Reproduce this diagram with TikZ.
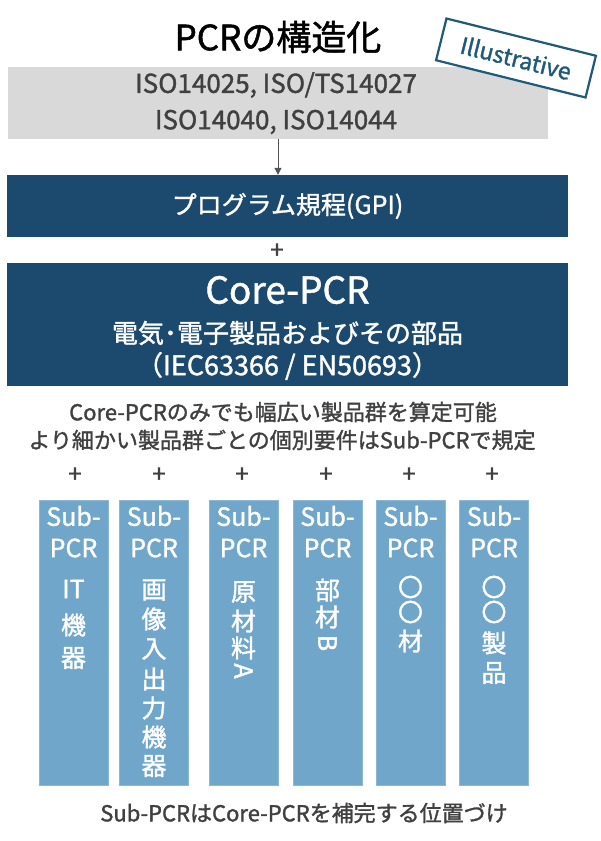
\documentclass[tikz,border=0pt]{standalone}
\usepackage{fontspec}
\setmainfont{Noto Sans CJK JP}[FakeBold=1.4]
\usetikzlibrary{arrows.meta}
\definecolor{darkblue}{HTML}{1C4A6E}
\definecolor{subblue}{HTML}{6FA6CA}
\definecolor{greyfill}{HTML}{D9D9D9}
\definecolor{greytext}{HTML}{404040}
\definecolor{illus}{HTML}{1F5A7A}
\newcommand{\fs}[2]{\fontsize{#1}{#2}\selectfont}
\begin{document}
\begin{tikzpicture}[x=1pt,y=-1pt,
  greybox/.style={fill=greyfill, draw=none, inner sep=0pt},
  bluebox/.style={fill=darkblue, draw=none, inner sep=0pt},
  subbox/.style={fill=subblue, draw=subblue!80!white, line width=0.6pt, inner sep=0pt, minimum width=69pt, minimum height=285pt},
  plain/.style={inner sep=0pt, text=greytext},
  wtext/.style={inner sep=0pt, text=white},
  plus/.style={inner sep=0pt, text=greytext, font=\fs{24}{24}},
  subtxt/.style={inner sep=0pt, text=white, font=\fs{25}{25}},
  vchar/.style={inner sep=0pt, text=white, font=\fs{25}{25}},
  conn/.style={draw=greytext!90, line width=1pt, -{Triangle[length=7pt,width=7pt]}}
]
\useasboundingbox (0,0) rectangle (600,841);
\fill[white] (0,0) rectangle (600,841);

% title
\node[inner sep=0pt, text=black, font=\fs{35}{35}] (title) at (278,37) {PCRの構造化};

% ISO box
\node[greybox, minimum width=540pt, minimum height=72pt] (iso) at (278,103) {};
\node[plain, font=\fs{26}{26}] (iso1) at (276,85) {ISO14025, ISO/TS14027};
\node[plain, font=\fs{26}{26}] (iso2) at (276,122) {ISO14040, ISO14044};

% Illustrative stamp
\node[draw=illus, line width=2.2pt, fill=white, rotate=-14, minimum width=154pt, minimum height=43pt, inner sep=0pt, text=illus, font=\fs{23}{23}] (ill) at (516,58) {Illustrative};

% GPI box
\node[bluebox, minimum width=561pt, minimum height=62pt, text=white, font=\fs{25}{25}] (gpi) at (287.5,206) {プログラム規程(GPI)};

\draw[conn] (iso.south) -- (iso.south |- gpi.north);

\node[plus] (p0) at (277,251) {+};

% Core-PCR box
\node[bluebox, minimum width=561pt, minimum height=123pt] (core) at (287.5,324.5) {};
\node[wtext, font=\fs{37}{37}] (c1) at (287.5,290) {Core-PCR};
\node[wtext, font=\fs{26}{26}] (c2) at (287.5,333) {電気･電子製品およびその部品};
\node[wtext, font=\fs{27}{27}] (c3) at (287.5,366) {（IEC63366 / EN50693）};

% explanation
\node[plain, font=\fs{22}{22}] (e1) at (283,412) {Core-PCRのみでも幅広い製品群を算定可能};
\node[plain, font=\fs{22}{22}] (e2) at (282,440) {より細かい製品群ごとの個別要件はSub-PCRで規定};

% plus row
\foreach \i/\x in {1/75,2/159,3/242,4/326,5/409,6/492}{
  \node[plus] (pp\i) at (\x,475) {+};
}

% Sub-PCR boxes
\foreach \i/\x in {1/73.5,2/154,3/243.5,4/327.5,5/410.5,6/494}{
  \node[subbox] (s\i) at (\x,642.5) {};
  \node[subtxt] (sa\i) at (\x,516) {Sub-};
  \node[subtxt] (sb\i) at (\x,548) {PCR};
}
% vertical labels
\foreach \c/\y [count=\k] in {IT/589,機/625,器/658}{
  \node[vchar] (v1\k) at (73.5,\y) {\c};}
\foreach \c/\y [count=\k] in {画/590,像/619,入/649,出/679,力/708,機/737,器/766}{
  \node[vchar] (v2\k) at (154,\y) {\c};}
\foreach \c/\y [count=\k] in {原/592,材/621,料/648}{
  \node[vchar] (v3\k) at (243.5,\y) {\c};}
\node[vchar, rotate=-90] (v34) at (243.5,671) {A};
\foreach \c/\y [count=\k] in {部/590,材/617}{
  \node[vchar] (v4\k) at (327.5,\y) {\c};}
\node[vchar, rotate=-90] (v43) at (327.5,643) {B};
\foreach \c/\y [count=\k] in {〇/587,〇/612,材/641}{
  \node[vchar] (v5\k) at (410.5,\y) {\c};}
\foreach \c/\y [count=\k] in {〇/587,〇/612,製/643,品/673}{
  \node[vchar] (v6\k) at (494,\y) {\c};}

% bottom note
\node[plain, font=\fs{22}{22}] (note) at (304,813) {Sub-PCRはCore-PCRを補完する位置づけ};
\end{tikzpicture}
\end{document}
